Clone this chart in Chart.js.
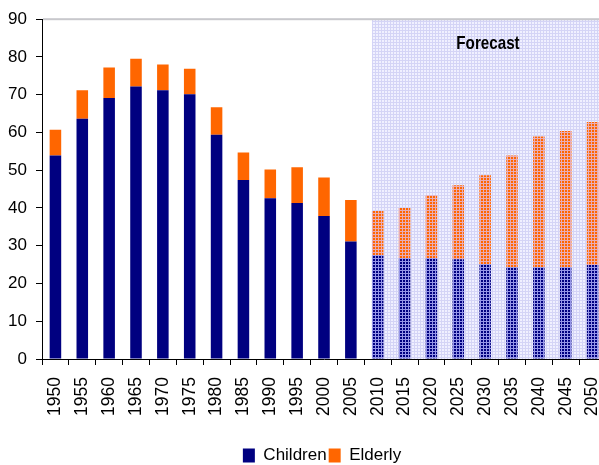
<!DOCTYPE html>
<html><head><meta charset="utf-8">
<script src="https://cdn.jsdelivr.net/npm/chart.js@4.4.1/dist/chart.umd.min.js"></script>
<style>
html,body{margin:0;padding:0;overflow:hidden;background:#fff;width:599px;height:465px}
canvas{display:block}
</style></head><body>
<canvas id="c" width="644" height="478"></canvas>
<script>
const years = ['1950','1955','1960','1965','1970','1975','1980','1985','1990','1995','2000','2005',
               '2010','2015','2020','2025','2030','2035','2040','2045','2050'];
const children = [53.9,63.6,69.1,72.2,71.2,70.1,59.4,47.4,42.6,41.3,37.9,31.1,
                  27.5,26.7,26.7,26.4,25.1,24.3,24.3,24.3,24.9];
const elderly = [6.8,7.6,8.1,7.3,6.8,6.8,7.3,7.3,7.6,9.5,10.2,11.0,
                 11.7,13.3,16.7,19.6,23.6,29.6,34.6,36.1,37.9];
const forecastFrom = '2010';
const forecastLabel = 'Forecast';
const seriesNames = ['Children','Elderly'];
const yMin = 0, yMax = 90, yStep = 10;

const FONT = '"Liberation Sans", Arial, sans-serif';

function makePattern(base, line) {
  const t = document.createElement('canvas');
  t.width = 3; t.height = 3;
  const g = t.getContext('2d');
  g.fillStyle = base; g.fillRect(0,0,3,3);
  g.fillStyle = line; g.fillRect(0,0,3,1); g.fillRect(0,0,1,3);
  return document.getElementById('c').getContext('2d').createPattern(t,'repeat');
}
const blueSolid = '#000080', orangeSolid = '#ff6600';
const bluePat = makePattern('#000080', 'rgb(150,150,232)');
const orangePat = makePattern('#ff6600', 'rgb(232,172,182)');
const bgPat = makePattern('rgb(240,240,255)', 'rgb(212,212,246)');
const fIdx = years.indexOf(forecastFrom);

const forecastPlugin = {
  id: 'forecast',
  beforeDatasetsDraw(chart) {
    const {ctx, chartArea} = chart;
    const bar = chart.getDatasetMeta(0).data[fIdx];
    const x0 = bar.x - bar.width / 2;
    ctx.save();
    ctx.fillStyle = bgPat;
    ctx.fillRect(x0, chartArea.top, chartArea.right - x0, chartArea.bottom - chartArea.top);
    ctx.fillStyle = '#c8c8cc';
    ctx.fillRect(chartArea.left + 1, chartArea.top - 1, chartArea.right - chartArea.left, 2);
    ctx.restore();
  },
  afterDraw(chart) {
    const {ctx, chartArea} = chart;
    ctx.save();
    ctx.translate(488, chartArea.top + 25);
    ctx.scale(0.8, 1);
    ctx.font = 'bold 19px ' + FONT;
    ctx.fillStyle = '#000';
    ctx.textAlign = 'center';
    ctx.textBaseline = 'middle';
    ctx.fillText(forecastLabel, 0, 0);
    ctx.restore();
  }
};

new Chart(document.getElementById('c'), {
  type: 'bar',
  data: {
    labels: years,
    datasets: [
      { label: seriesNames[0], data: children,
        backgroundColor: years.map((y,i) => i >= fIdx ? bluePat : blueSolid), borderWidth: 0 },
      { label: seriesNames[1], data: elderly,
        backgroundColor: years.map((y,i) => i >= fIdx ? orangePat : orangeSolid), borderWidth: 0 }
    ]
  },
  options: {
    responsive: false,
    animation: false,
    devicePixelRatio: 1,
    barPercentage: 0.43,
    categoryPercentage: 1,
    layout: { padding: { top: 15, left: 0, right: 0, bottom: 4 } },
    plugins: {
      tooltip: { enabled: false },
      legend: {
        position: 'bottom',
        labels: { boxWidth: 12, boxHeight: 14, padding: 2, color: '#000',
                  font: { size: 17, family: FONT } }
      }
    },
    scales: {
      x: {
        stacked: true,
        grid: { offset: true, drawOnChartArea: false, tickLength: 6, color: '#000' },
        border: { color: '#000', width: 1 },
        ticks: { minRotation: 90, maxRotation: 90, padding: 12, color: '#000', autoSkip: false,
                 font: { size: 17.5, family: FONT } },
        afterFit(s) { s.height = 86; }
      },
      y: {
        stacked: true, min: yMin, max: yMax,
        grid: { drawOnChartArea: false, tickLength: 6, color: '#000' },
        border: { color: '#000', width: 1 },
        ticks: { stepSize: yStep, padding: 9, color: '#000', font: { size: 17, family: FONT } },
        afterFit(s) { s.width = 42; }
      },
      y2: {
        position: 'right', display: true, min: 0, max: 1,
        grid: { display: false, drawOnChartArea: false, drawTicks: false },
        border: { display: false },
        ticks: { display: false },
        afterFit(s) { s.width = 38; }
      }
    }
  },
  plugins: [forecastPlugin]
});
</script>
</body></html>
